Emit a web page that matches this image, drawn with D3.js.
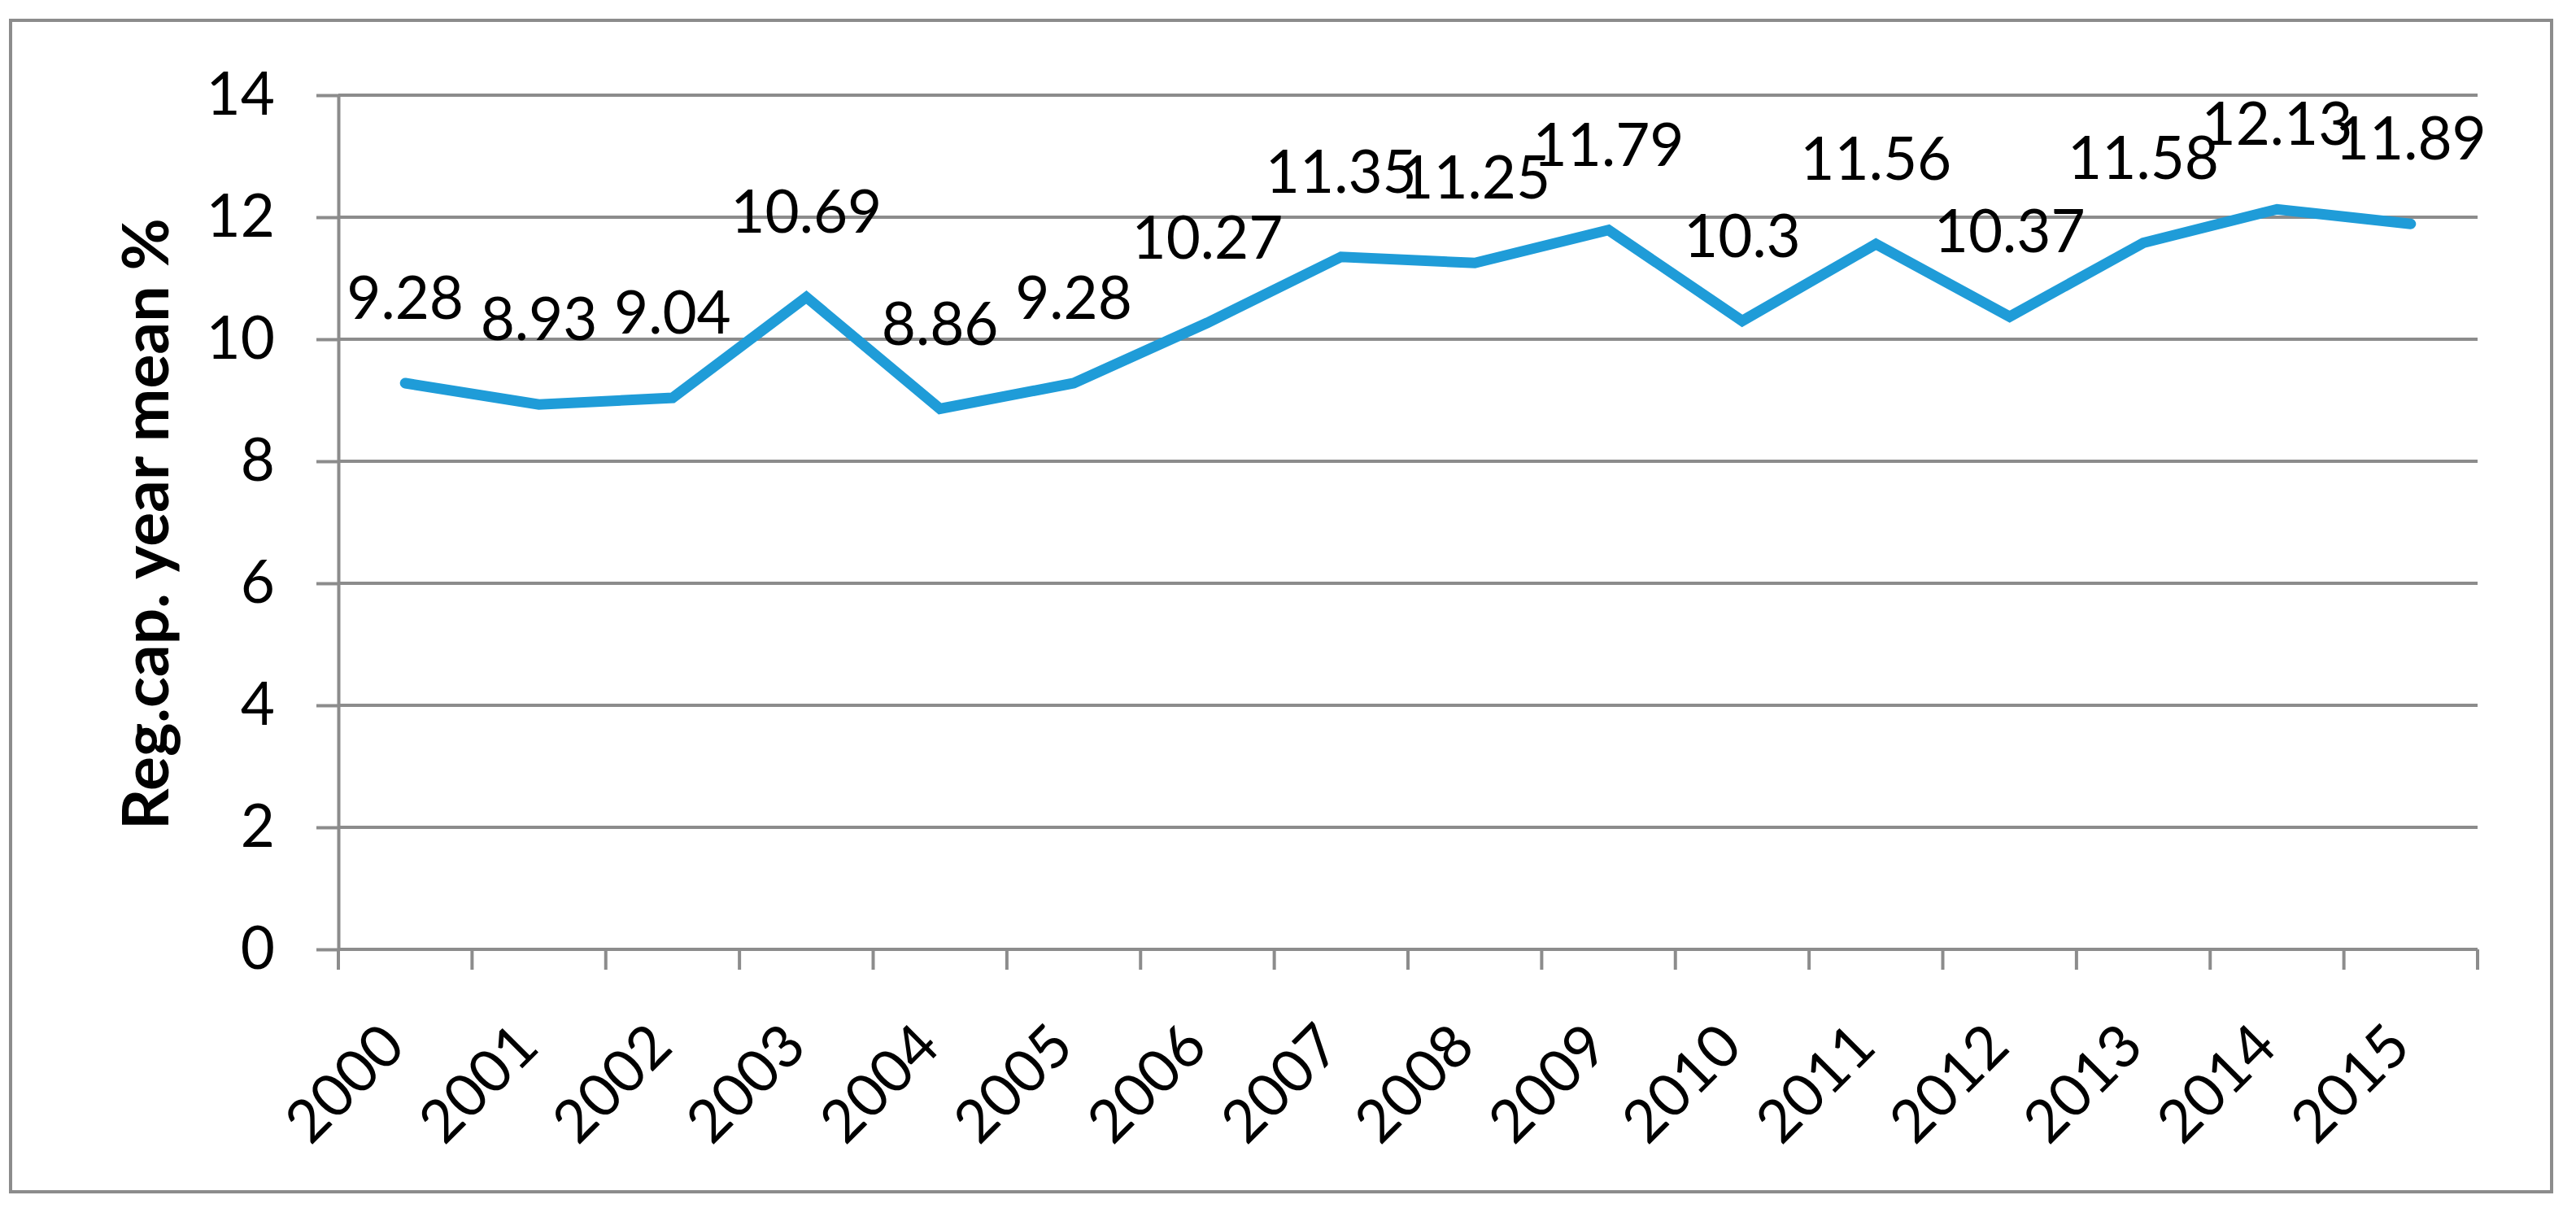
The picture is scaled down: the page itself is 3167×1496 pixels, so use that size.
<!DOCTYPE html>
<html>
<head>
<meta charset="utf-8">
<script src="https://cdn.jsdelivr.net/npm/d3@7"></script>
<style>
  html, body { margin: 0; padding: 0; background: #fff; }
  svg { display: block; }
  text { font-family: Lato, "Open Sans", sans-serif; fill: #000; }
</style>
</head>
<body>
<script>
// ---- data ----
const years = ["2000","2001","2002","2003","2004","2005","2006","2007","2008","2009","2010","2011","2012","2013","2014","2015"];
const values = [9.28, 8.93, 9.04, 10.69, 8.86, 9.28, 10.27, 11.35, 11.25, 11.79, 10.3, 11.56, 10.37, 11.58, 12.13, 11.89];
const valueLabels = ["9.28","8.93","9.04","10.69","8.86","9.28","10.27","11.35","11.25","11.79","10.3","11.56","10.37","11.58","12.13","11.89"];
const yTicks = [0, 2, 4, 6, 8, 10, 12, 14];
const yTitle = "Reg.cap. year mean %";

(function () {
// ---- layout ----
const W = 3167, H = 1496;
const pLeft = 416, pRight = 3046, pTop = 117, pBottom = 1167;
const gray = "#8c8c8c";
const blue = "#1f9cd8";

const svg = d3.select("body").append("svg").attr("width", W).attr("height", H);

// fit font sizes to the reference text widths
function fitSize(str, weight, target, base) {
  const t = svg.append("text").attr("font-size", base).attr("font-weight", weight).text(str);
  const len = t.node().getComputedTextLength();
  t.remove();
  return len > 0 ? base * target / len : base;
}
const fs = fitSize("10.69", "normal", 186, 72);
const titleFs = fitSize(yTitle, "bold", 752, 74);

// outer border
svg.append("rect").attr("x", 13).attr("y", 25).attr("width", 3137 - 13).attr("height", 1465 - 25)
  .attr("fill", "none").attr("stroke", gray).attr("stroke-width", 4);

const x = d3.scaleBand().domain(years).range([pLeft, pRight]).padding(0);
const y = d3.scaleLinear().domain([0, 14]).range([pBottom, pTop]);

// gridlines
svg.append("g").selectAll("line").data(yTicks).join("line")
  .attr("x1", pLeft).attr("x2", pRight)
  .attr("y1", d => y(d)).attr("y2", d => y(d))
  .attr("stroke", gray).attr("stroke-width", 4);

// y axis
const yAxis = svg.append("g").attr("transform", `translate(${pLeft},0)`)
  .call(d3.axisLeft(y).tickValues(yTicks).tickSizeInner(27).tickSizeOuter(0).tickPadding(51).tickFormat(d3.format("d")));
yAxis.select(".domain").attr("stroke", gray).attr("stroke-width", 4);
yAxis.selectAll(".tick line").attr("stroke", gray).attr("stroke-width", 4);
yAxis.selectAll(".tick text").attr("font-size", fs).attr("font-family", "Lato").attr("fill", "#000");

// x axis line + boundary ticks
const xAxis = svg.append("g").attr("transform", `translate(0,${pBottom})`);
xAxis.append("line").attr("x1", pLeft).attr("x2", pRight).attr("y1", 0).attr("y2", 0)
  .attr("stroke", gray).attr("stroke-width", 4);
const bounds = years.map(d => x(d)).concat([x.range()[1]]);
xAxis.selectAll("line.tk").data(bounds).join("line").attr("class", "tk")
  .attr("x1", d => d).attr("x2", d => d).attr("y1", 0).attr("y2", 25)
  .attr("stroke", gray).attr("stroke-width", 4);
xAxis.selectAll("text").data(years).join("text")
  .attr("transform", d => `translate(${x(d) + x.bandwidth() / 2 + 3},123) rotate(-45)`)
  .attr("text-anchor", "end").attr("font-size", fs)
  .text(d => d);

// y title
svg.append("text")
  .attr("transform", `translate(207,${(pTop + pBottom) / 2 + 2}) rotate(-90)`)
  .attr("text-anchor", "middle").attr("font-size", titleFs).attr("font-weight", "bold")
  .text(yTitle);

// line
const cx = d => x(d) + x.bandwidth() / 2;
const line = d3.line().x((d, i) => cx(years[i])).y(d => y(d));
svg.append("path").datum(values).attr("d", line)
  .attr("fill", "none").attr("stroke", blue).attr("stroke-width", 13)
  .attr("stroke-linecap", "round").attr("stroke-linejoin", "miter");

// data labels
svg.append("g").selectAll("text").data(values).join("text")
  .attr("x", (d, i) => cx(years[i]))
  .attr("y", d => y(d) - 79)
  .attr("text-anchor", "middle").attr("font-size", fs)
  .text((d, i) => valueLabels[i]);
})();
</script>
</body>
</html>
